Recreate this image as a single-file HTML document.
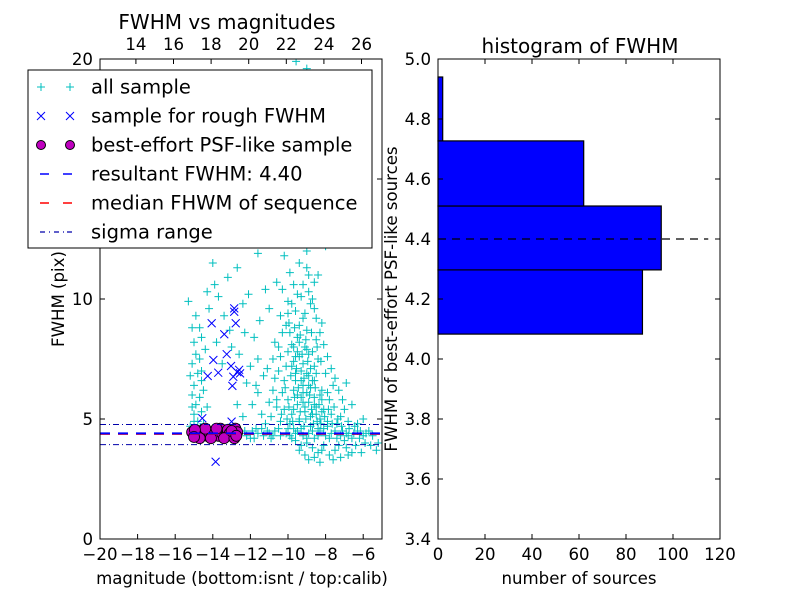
<!DOCTYPE html>
<html><head><meta charset="utf-8">
<style>
html,body{margin:0;padding:0;background:#fff;}
svg{display:block;font-family:"DejaVu Sans","Liberation Sans",sans-serif;}
</style></head>
<body>
<svg id="chart" width="800" height="600" viewBox="0 0 800 600" xmlns="http://www.w3.org/2000/svg">
<rect x="0" y="0" width="800" height="600" fill="#fff"/>
<g id="left"></g>
<g id="right"></g>
</svg>
<script>
// ---------- data: left scatter ----------
const allSample = [
[-9.57,19.9],[-9.0,19.6],[-9.3,18.9],[-9.7,18.5],[-8.8,18.2],[-10.6,17.8],[-9.9,17.4],[-8.6,17.1],[-9.4,16.6],[-10.1,16.2],
[-8.9,15.8],[-9.6,15.4],[-13.6,15.2],[-12.8,14.9],[-10.4,14.7],[-9.1,14.5],[-8.3,14.2],[-14.2,13.9],[-12.3,13.6],[-9.8,13.5],
[-8.7,13.2],[-10.9,12.9],[-13.3,12.6],[-9.4,12.4],[-8.0,12.2],[-11.6,11.9],[-10.2,11.8],[-14.0,11.5],[-12.7,11.3],[-9.0,11.3],
[-8.4,11.0],[-15.3,9.9],[-13.2,10.9],[-10.6,10.7],[-9.7,10.6],[-11.2,10.4],[-8.9,10.3],[-12.1,10.2],[-9.3,10.1],[-10.0,9.9],
[-13.9,10.6],[-14.3,10.3],[-12.4,9.8],[-11.0,9.6],[-9.6,9.5],[-8.6,9.6],[-10.4,9.3],[-9.2,9.2],[-8.2,9.0],[-11.5,9.1],
[-14.9,9.3],[-14.7,8.8],[-13.1,8.7],[-10.1,8.9],[-9.9,8.6],[-9.5,8.4],[-9.0,8.7],[-8.5,8.3],[-10.7,8.2],[-11.8,8.4],
[-15.0,8.2],[-14.9,7.7],[-15.1,7.3],[-14.8,6.9],[-15.0,6.4],[-15.1,6.0],[-14.9,5.6],[-15.0,5.2],[-14.8,4.9],[-15.2,4.7],
[-14.4,7.9],[-14.6,7.0],[-14.5,6.2],[-14.3,5.5],[-13.5,7.3],[-12.6,7.7],[-12.2,6.5],[-11.9,5.6],[-12.4,5.1],[-11.3,6.8],
[-10.8,7.5],[-10.5,7.0],[-10.2,6.6],[-10.0,7.8],[-9.8,7.2],[-9.6,6.9],[-9.4,7.6],[-9.2,6.4],[-9.0,7.9],[-8.8,7.1],
[-8.6,6.6],[-8.4,7.5],[-8.2,6.2],[-8.0,6.9],[-7.8,5.8],[-7.6,6.4],[-10.3,6.1],[-10.0,5.8],[-9.7,6.2],[-9.5,5.6],
[-9.3,5.9],[-9.1,5.3],[-8.9,5.7],[-8.7,5.2],[-8.5,5.5],[-8.3,5.0],[-8.1,5.4],[-7.9,4.9],[-7.7,5.2],[-7.4,4.8],
[-10.6,5.5],[-10.9,5.1],[-11.2,4.8],[-10.4,4.9],[-9.9,4.8],[-9.4,4.9],[-8.8,4.7],[-8.4,4.6],[-7.2,5.1],[-6.8,4.9],
[-9.8,8.1],[-9.5,7.8],[-9.1,8.0],[-8.9,6.8],[-9.3,7.0],[-9.7,7.4],[-10.1,7.2],[-8.7,7.8],[-8.5,6.9],[-9.0,6.1],
[-9.6,6.6],[-8.8,6.3],[-9.2,5.7],[-8.6,5.9],[-10.2,5.4],[-9.8,5.2],[-8.2,5.8],[-7.9,6.1],[-9.4,8.9],[-9.1,9.4],
[-12.5,4.4],[-12.2,4.3],[-11.9,4.5],[-11.6,4.4],[-11.3,4.3],[-11.0,4.4],[-10.7,4.5],[-10.4,4.3],[-10.1,4.4],[-9.8,4.2],
[-9.5,4.5],[-9.2,4.3],[-8.9,4.4],[-8.6,4.2],[-8.3,4.5],[-8.0,4.3],[-7.7,4.4],[-7.4,4.2],[-7.1,4.5],[-6.8,4.3],
[-6.5,4.4],[-6.2,4.2],[-5.9,4.0],[-5.6,3.9],[-5.3,3.7],[-9.0,4.0],[-8.7,3.8],[-8.4,3.6],[-8.1,3.9],[-7.8,3.5],
[-7.5,3.7],[-7.2,3.4],[-6.9,3.8],[-6.6,3.6],[-8.9,3.3],[-9.3,3.9],[-7.0,4.1],[-6.3,4.8],[-6.0,5.0],[-8.3,3.2],
[-12.9,4.2],[-12.7,4.6],[-11.8,4.2],[-11.4,4.6],[-10.9,4.2],[-10.5,4.6],[-10.0,4.6],[-9.6,4.1],[-9.7,4.6],[-7.9,4.7],
[-10.0,9.4],[-9.8,9.8],[-9.5,10.2],[-9.2,10.6],[-8.9,11.0],[-9.4,11.5],[-9.9,11.1],[-10.3,10.4],[-8.7,10.0],[-8.5,9.2],
[-8.3,8.6],[-8.1,8.1],[-7.9,7.6],[-7.7,7.1],[-7.5,6.7],[-7.3,6.2],[-7.1,5.8],[-7.0,5.4],[-6.9,6.5],[-6.6,5.6],
[-10.3,8.6],[-10.5,8.0],[-10.4,7.6],[-10.7,6.7],[-10.8,6.2],[-10.6,5.8],[-11.0,5.7],[-11.4,5.2],[-11.6,6.1],[-11.1,7.1],
[-9.95,9.0],[-9.65,8.8],[-9.35,8.5],[-9.05,8.3],[-8.75,8.6],[-8.45,8.0],[-8.25,7.4],[-8.95,7.4],[-9.25,7.7],[-9.55,7.1],
[-9.85,6.8],[-10.15,6.3],[-9.45,6.3],[-9.15,6.7],[-8.85,6.0],[-8.55,6.3],[-8.35,5.6],[-8.05,5.1],[-7.85,5.4],[-7.65,4.8],
[-9.95,5.5],[-9.65,5.9],[-9.35,5.3],[-9.05,5.0],[-8.75,5.4],[-8.45,4.9],[-10.35,5.2],[-10.05,5.0],[-9.75,4.9],[-9.15,4.7],
[-8.65,4.8],[-8.25,4.8],[-7.55,5.5],[-7.35,5.0],[-7.15,4.7],[-6.75,4.6],[-6.45,4.7],[-6.15,4.5],[-5.85,4.4],[-5.5,4.3],
[-9.9,4.3],[-9.6,4.4],[-9.3,4.6],[-9.0,4.2],[-8.7,4.5],[-8.4,4.3],[-8.1,4.6],[-7.8,4.2],[-7.5,4.5],[-7.2,4.3],
[-6.9,4.4],[-6.6,4.2],[-6.3,4.5],[-6.0,4.3],[-5.7,4.5],[-12.3,4.5],[-12.0,4.2],[-11.7,4.6],[-11.1,4.5],[-10.8,4.3],
[-9.4,3.7],[-9.1,3.5],[-8.6,3.4],[-8.2,3.7],[-7.6,3.3],[-7.3,3.9],[-6.8,3.5],[-6.4,3.9],[-6.1,3.6],[-5.2,4.0],
[-8.8,9.8],[-8.6,10.7],[-9.0,12.0],[-9.6,12.8],[-8.3,12.7],[-10.1,13.1],[-8.7,14.0],[-9.3,15.1],[-10.3,15.9],[-8.8,16.7],
[-13.4,9.3],[-13.7,10.1],[-14.2,9.6],[-13.0,8.0],[-13.8,8.2],[-12.3,8.6],[-11.6,7.5],[-12.0,7.2],[-11.7,6.4],[-12.7,5.6],
[-14.6,8.4],[-14.7,7.5],[-14.6,6.6],[-14.7,5.9],[-14.6,5.3],[-14.5,4.8],[-15.1,8.8],[-15.2,6.8],[-15.1,5.5],[-15.0,4.9],
[-9.7,8.0],[-9.4,8.2],[-9.2,7.3],[-8.9,7.7],[-8.6,7.2],[-9.6,7.6],[-9.3,6.6],[-9.0,6.9],[-8.7,6.6],[-9.5,6.0],
[-9.2,6.1],[-8.9,6.4],[-8.6,5.6],[-8.3,6.0],[-9.1,5.5],[-8.8,5.1],[-8.5,5.2],[-8.2,5.3],[-9.4,5.0],[-9.7,5.4]
];
const roughSample = [
[-12.86,9.61],[-12.86,9.47],[-12.78,8.99],[-14.06,8.99],[-13.39,8.53],[-13.26,7.70],[-13.97,7.46],[-13.03,7.21],
[-13.71,6.93],[-14.27,6.79],[-12.91,6.76],[-12.55,6.90],[-12.96,6.38],[-14.56,5.03],[-13.0,4.89],[-13.85,3.22],
[-12.7,6.95],[-12.6,7.05]
];
const bestSample = [
[-15.1,4.45],[-14.9,4.3],[-14.8,4.5],[-14.6,4.35],[-14.5,4.55],[-14.3,4.3],[-14.2,4.45],[-14.0,4.35],[-13.9,4.5],[-13.7,4.3],
[-13.6,4.6],[-13.5,4.4],[-13.3,4.3],[-13.2,4.55],[-13.1,4.4],[-12.9,4.35],[-12.8,4.6],[-12.7,4.45],[-14.7,4.2],[-14.1,4.2],
[-13.4,4.2],[-12.85,4.2],[-13.8,4.6],[-14.4,4.6],[-13.0,4.5],[-12.75,4.3],[-14.95,4.55],[-15.0,4.25]
];
const resultFWHM = 4.40;
const medianFWHM = 4.38;
const sigmaRange = [3.93, 4.77];
const xTicksBottom = [-20,-18,-16,-14,-12,-10,-8,-6];
const xTicksTop = [14,16,18,20,22,24,26];
const yTicksLeft = [0,5,10,15,20];
// ---------- data: right histogram ----------
const binEdges = [4.083,4.297,4.51,4.727,4.94];
const binCounts = [87,95,62,2];
const xTicksRight = [0,20,40,60,80,100,120];
const yTicksRight = [3.4,3.6,3.8,4.0,4.2,4.4,4.6,4.8,5.0];

const NS='http://www.w3.org/2000/svg';
function mk(parent,tag,attrs,text){const e=document.createElementNS(NS,tag);for(const k in attrs)e.setAttribute(k,attrs[k]);if(text!==undefined)e.textContent=text;parent.appendChild(e);return e;}
const FS=16.6;

// Left axes
const L={x0:100,x1:382,y0:59,y1:539};
const lx=v=>L.x0+(v+20)/15*(L.x1-L.x0);
const ly=v=>L.y1-v/20*(L.y1-L.y0);
const tx=v=>lx(v-32.09);
const gl=document.getElementById('left');


let cp=mk(gl,'clipPath',{id:'clipL'});mk(cp,'rect',{x:L.x0,y:L.y0,width:L.x1-L.x0,height:L.y1-L.y0});
const pts=mk(gl,'g',{'clip-path':'url(#clipL)'});
allSample.forEach(p=>{const x=lx(p[0]),y=ly(p[1]);
 const e=mk(pts,'path',{d:`M${x-4},${y}H${x+4}M${x},${y-4}V${y+4}`,stroke:'#00bfbf','stroke-width':1});
 
 });
roughSample.forEach(p=>{const x=lx(p[0]),y=ly(p[1]);
 const e=mk(pts,'path',{d:`M${x-4},${y-4}L${x+4},${y+4}M${x-4},${y+4}L${x+4},${y-4}`,stroke:'#0000ff','stroke-width':1});
 
 });
bestSample.forEach(p=>{const e=mk(pts,'circle',{cx:lx(p[0]),cy:ly(p[1]),r:5.5,fill:'#bf00bf',stroke:'#000','stroke-width':0.8});
 
 });
let ln=mk(pts,'line',{x1:L.x0,x2:L.x1,y1:ly(medianFWHM),y2:ly(medianFWHM),stroke:'#ff0000','stroke-width':2,'stroke-dasharray':'10,8'});

ln=mk(pts,'line',{x1:L.x0,x2:L.x1,y1:ly(resultFWHM),y2:ly(resultFWHM),stroke:'#0000ff','stroke-width':2,'stroke-dasharray':'10,8'});

sigmaRange.forEach(s=>{const e=mk(pts,'line',{x1:L.x0,x2:L.x1,y1:ly(s),y2:ly(s),stroke:'#0000aa','stroke-width':1,'stroke-dasharray':'6,3,1,3'});
 });
mk(gl,'rect',{x:L.x0,y:L.y0,width:L.x1-L.x0,height:L.y1-L.y0,fill:'none',stroke:'#000','stroke-width':1});
xTicksBottom.forEach(v=>{const x=lx(v);mk(gl,'path',{d:`M${x},${L.y1}v-5`,stroke:'#000'});
 const t=mk(gl,'text',{x:x,y:560,'text-anchor':'middle','font-size':FS},'\u2212'+Math.abs(v));
 });
xTicksTop.forEach(v=>{const x=tx(v);mk(gl,'path',{d:`M${x},${L.y0}v5`,stroke:'#000'});
 const t=mk(gl,'text',{x:x,y:50,'text-anchor':'middle','font-size':FS},String(v));
 });
yTicksLeft.forEach(v=>{const y=ly(v);mk(gl,'path',{d:`M${L.x0},${y}h5M${L.x1},${y}h-5`,stroke:'#000'});
 const t=mk(gl,'text',{x:L.x0-7,y:y+6,'text-anchor':'end','font-size':FS},String(v));
 });
let t=mk(gl,'text',{x:227,y:29,'text-anchor':'middle','font-size':20},'FWHM vs magnitudes');

t=mk(gl,'text',{x:242,y:584,'text-anchor':'middle','font-size':FS},'magnitude (bottom:isnt / top:calib)');

t=mk(gl,'text',{x:64,y:299,'text-anchor':'middle','font-size':FS,transform:'rotate(-90 64 299)'},'FWHM (pix)');


// legend
const lg=mk(gl,'g',{});

mk(lg,'rect',{x:28,y:70,width:344,height:178,fill:'#fff',stroke:'#000','stroke-width':1});
const labels=['all sample','sample for rough FWHM','best-effort PSF-like sample','resultant FWHM: 4.40','median FHWM of sequence','sigma range'];
labels.forEach((lab,i)=>{const y=87+i*29;
 const en=mk(lg,'g',{});
 
 if(i===0)[41,70].forEach(x=>mk(en,'path',{d:`M${x-4},${y}h8M${x},${y-4}v8`,stroke:'#00bfbf'}));
 if(i===1)[41,70].forEach(x=>mk(en,'path',{d:`M${x-4},${y-4}l8,8M${x-4},${y+4}l8,-8`,stroke:'#0000ff'}));
 if(i===2)[41,70].forEach(x=>mk(en,'circle',{cx:x,cy:y,r:4.5,fill:'#bf00bf',stroke:'#000'}));
 if(i===3){mk(en,'path',{d:`M40,${y}h9M63,${y}h9`,stroke:'#0000ff','stroke-width':1.5});}
 if(i===4){mk(en,'path',{d:`M40,${y}h9M63,${y}h9`,stroke:'#ff0000','stroke-width':1.5});}
 if(i===5){mk(en,'path',{d:`M40,${y}h5M49,${y}h1M54,${y}h5M63,${y}h1M67,${y}h5`,stroke:'#0000aa','stroke-width':1.2});}
 mk(en,'text',{x:91,y:y+6.5,'font-size':19.5},lab);
});

// Right histogram
const R={x0:438,x1:720,y0:59,y1:539};
const rx=v=>R.x0+v/120*(R.x1-R.x0);
const ry=v=>R.y1-(v-3.4)/1.6*(R.y1-R.y0);
const gr=document.getElementById('right');


binCounts.forEach((c,i)=>{const yTop=ry(binEdges[i+1]),yBot=ry(binEdges[i]);
 const b=mk(gr,'rect',{x:rx(0),y:yTop,width:rx(c)-rx(0),height:yBot-yTop,fill:'#0000ff',stroke:'#000','stroke-width':1.2});
 });
ln=mk(gr,'line',{x1:rx(0),x2:rx(115),y1:ry(resultFWHM),y2:ry(resultFWHM),stroke:'#000','stroke-width':1.2,'stroke-dasharray':'8,6'});

mk(gr,'rect',{x:R.x0,y:R.y0,width:R.x1-R.x0,height:R.y1-R.y0,fill:'none',stroke:'#000','stroke-width':1});
xTicksRight.forEach(v=>{const x=rx(v);mk(gr,'path',{d:`M${x},${R.y1}v-5M${x},${R.y0}v5`,stroke:'#000'});
 const t=mk(gr,'text',{x:x,y:560,'text-anchor':'middle','font-size':FS},String(v));
 });
yTicksRight.forEach(v=>{const y=ry(v);mk(gr,'path',{d:`M${R.x0},${y}h5M${R.x1},${y}h-5`,stroke:'#000'});
 const t=mk(gr,'text',{x:R.x0-7,y:y+6,'text-anchor':'end','font-size':FS},v.toFixed(1));
 });
t=mk(gr,'text',{x:580,y:53,'text-anchor':'middle','font-size':20},'histogram of FWHM');

t=mk(gr,'text',{x:579,y:584,'text-anchor':'middle','font-size':FS},'number of sources');

t=mk(gr,'text',{x:397,y:299,'text-anchor':'middle','font-size':FS,transform:'rotate(-90 397 299)'},'FWHM of best-effort PSF-like sources');

</script>
</body></html>
